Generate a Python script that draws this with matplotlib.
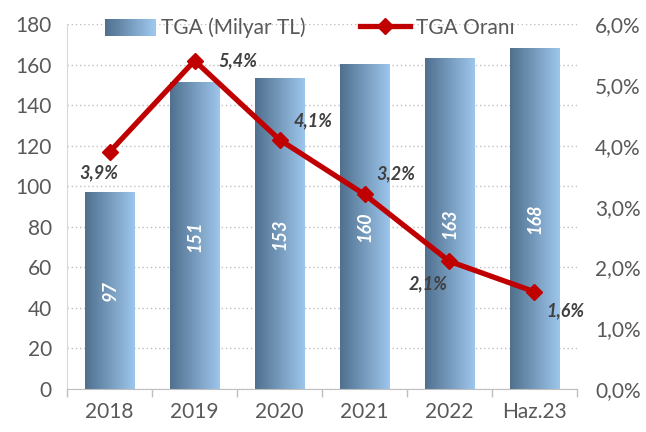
import numpy as np
import matplotlib
matplotlib.use("Agg")
import matplotlib.pyplot as plt
from matplotlib.legend_handler import HandlerBase
from matplotlib.patches import Rectangle
from matplotlib.lines import Line2D
from matplotlib.colors import LinearSegmentedColormap

categories = ["2018", "2019", "2020", "2021", "2022", "Haz.23"]
tga_values = [97, 151, 153, 160, 163, 168]
tga_ratio = [3.9, 5.4, 4.1, 3.2, 2.1, 1.6]
ratio_labels = ["3,9%", "5,4%", "4,1%", "3,2%", "2,1%", "1,6%"]
left_ticks = [0, 20, 40, 60, 80, 100, 120, 140, 160, 180]
right_ticks = [0, 1, 2, 3, 4, 5, 6]
right_tick_labels = ["0,0%", "1,0%", "2,0%", "3,0%", "4,0%", "5,0%", "6,0%"]

plt.rcParams['font.family'] = ['Lato', 'DejaVu Sans']

dark = "#50708e"
light = "#9dc6ec"
cmap = LinearSegmentedColormap.from_list("g", [dark, light])
grey_text = "#595959"

fig = plt.figure(figsize=(6.46, 4.32), dpi=100)
ax = fig.add_axes([0.104, 0.0995, 0.789, 0.8445])
ax2 = ax.twinx()

x = np.arange(len(categories))
bars = ax.bar(x, tga_values, width=0.585, color="none", edgecolor="none", zorder=2)
grad = np.linspace(0, 1, 64).reshape(1, -1)
for b in bars:
    x0, w, h = b.get_x(), b.get_width(), b.get_height()
    ax.imshow(grad, cmap=cmap, extent=[x0, x0 + w, 0, h], aspect="auto", zorder=2)
for xi, v in zip(x, tga_values):
    ax.text(xi, v / 2, str(v), rotation=90, ha="center", va="center", color="white",
            fontsize=13, fontweight="bold", fontstyle="italic", zorder=3)

ax.set_xlim(-0.5, len(categories) - 0.5)
ax.set_ylim(0, 180)
ax.set_yticks(left_ticks)
ax.set_xticks(x)
ax.set_xticklabels(categories)
ax.set_xticks(np.arange(-0.5, len(categories), 1), minor=True)
ax.tick_params(axis="x", which="major", length=0, pad=9, labelsize=15, colors=grey_text)
ax.tick_params(axis="x", which="minor", length=6, color="#bfbfbf", width=1)
ax.tick_params(axis="y", length=0, pad=11, labelsize=15, colors=grey_text)
ax.yaxis.grid(True, linestyle=(0, (1, 2)), color="#bfbfbf", linewidth=1)
ax.set_axisbelow(True)
for s in ["top", "right"]:
    ax.spines[s].set_visible(False)
ax.spines["left"].set_color("#d9d9d9")
ax.spines["bottom"].set_color("#bfbfbf")

ax2.plot(x, tga_ratio, color="#c00000", linewidth=3.8, marker="D", markersize=8,
         zorder=5)
ax2.set_ylim(0, 6)
ax2.set_yticks(right_ticks)
ax2.set_yticklabels(right_tick_labels)
ax2.tick_params(axis="y", length=0, pad=13, labelsize=15, colors=grey_text)
for s in ["top", "right", "left", "bottom"]:
    ax2.spines[s].set_visible(False)

offsets = [(-10, -20), (42, 0), (32, 18), (30, 20), (-20, -22), (30, -18)]
for xi, v, lab, (dx, dy) in zip(x, tga_ratio, ratio_labels, offsets):
    ax2.annotate(lab, (xi, v), xytext=(dx * 0.75, dy * 0.75), textcoords="offset points",
                 ha="center", va="center", fontsize=13, fontweight="bold",
                 fontstyle="italic", color="#404040", zorder=6)


class GradHandler(HandlerBase):
    def create_artists(self, legend, orig_handle, xdescent, ydescent, width, height,
                       fontsize, trans):
        n = 24
        arts = []
        for i in range(n):
            r = Rectangle((xdescent * -1 + width * i / n, -ydescent), width / n + 0.3, height,
                          facecolor=cmap(i / (n - 1)), edgecolor="none", transform=trans)
            arts.append(r)
        return arts


bar_handle = Rectangle((0, 0), 1, 1)
line_handle = Line2D([], [], color="#c00000", linewidth=3.8, marker="D", markersize=8)
fig.legend([bar_handle, line_handle], ["TGA (Milyar TL)", "TGA Oranı"],
           handler_map={Rectangle: GradHandler()}, loc="center",
           bbox_to_anchor=(0.48, 0.935), ncol=2, frameon=False, fontsize=15,
           handlelength=2.4, handleheight=0.9, columnspacing=2.6, handletextpad=0.3,
           labelcolor=grey_text)

fig.savefig("out.png", dpi=100)
